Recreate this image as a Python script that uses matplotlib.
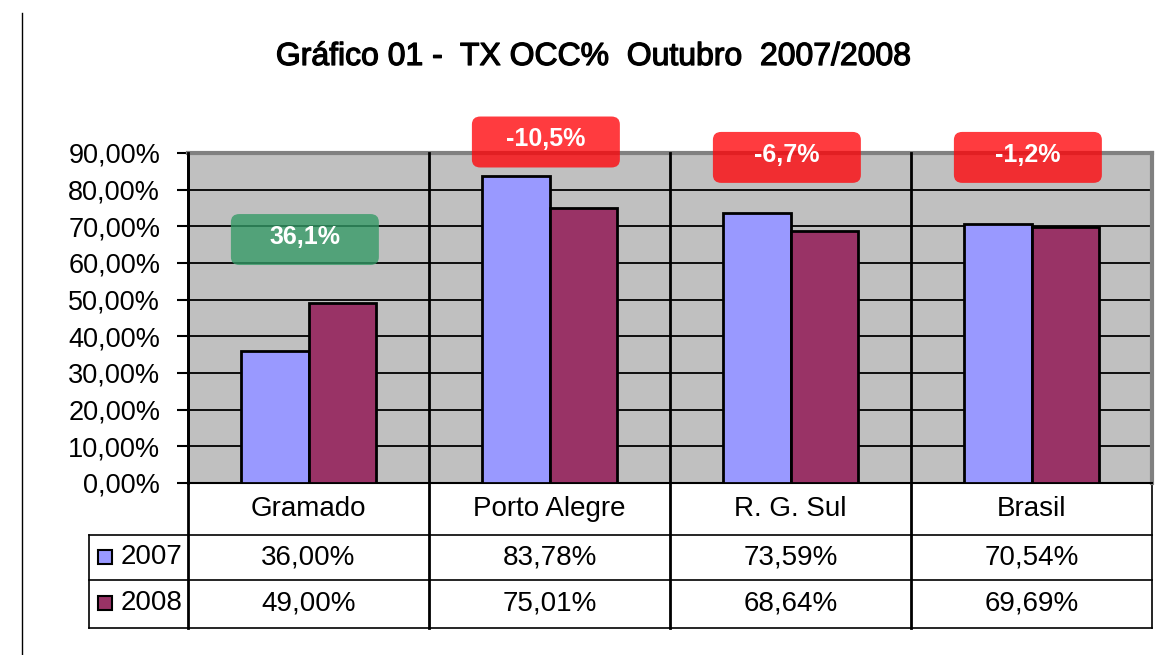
import matplotlib.pyplot as plt
import matplotlib.patheffects as pe
from matplotlib.patches import FancyBboxPatch, Rectangle
from matplotlib.lines import Line2D
from matplotlib.ticker import FuncFormatter

plt.rcParams['font.family'] = ['Liberation Sans', 'DejaVu Sans']

# dados do grafico
categorias = ['Gramado', 'Porto Alegre', 'R. G. Sul', 'Brasil']
anos = ['2007', '2008']
tx_2007 = [36.00, 83.78, 73.59, 70.54]
tx_2008 = [49.00, 75.01, 68.64, 69.69]

cores = ['#9999FF', '#993366']
W, H = 1167, 655
FS = 20


def pct(v, casas=2):
    return f'{v:.{casas}f}%'.replace('.', ',')


fig = plt.figure(figsize=(W / 100, H / 100), dpi=100)
fig.patch.set_facecolor('white')

# area do grafico (pixel coords da imagem original)
x0, x1, ytop, ybot = 188, 1152, 153, 483
ax = fig.add_axes([x0 / W, 1 - ybot / H, (x1 - x0) / W, (ybot - ytop) / H])
ax.set_facecolor('#C0C0C0')

n = len(categorias)
larg = 0.282
xs = list(range(n))
ax.bar([x - larg / 2 for x in xs], tx_2007, larg, color=cores[0],
       edgecolor='black', linewidth=2, zorder=3)
ax.bar([x + larg / 2 for x in xs], tx_2008, larg, color=cores[1],
       edgecolor='black', linewidth=2, zorder=3)

ax.set_xlim(-0.5, n - 0.5)
ax.set_ylim(0, 90)
ax.set_yticks(range(0, 91, 10))
ax.yaxis.set_major_formatter(FuncFormatter(lambda v, _: pct(v)))
ax.tick_params(axis='y', length=8, width=1.5, labelsize=19.5, pad=12)
ax.set_xticks([])
ax.yaxis.grid(True, color='black', linewidth=1.3)
ax.set_axisbelow(True)

ax.spines['left'].set_linewidth(2)
ax.spines['bottom'].set_linewidth(1.5)
for s in ['top', 'right']:
    ax.spines[s].set_color('#808080')
    ax.spines[s].set_linewidth(3)

# tabela de dados abaixo do grafico
T = ax.get_xaxis_transform()
def fy(py):
    return (ybot - py) / (ybot - ytop)

xleg = -0.5 - (x0 - 89) / ((x1 - x0) / n)
r1, r2, r3 = 535, 580, 628
for yy in [r1, r2, r3]:
    ax.add_line(Line2D([xleg, n - 0.5], [fy(yy)] * 2, transform=T,
                       color='black', lw=1.2, clip_on=False))
for xx in [i + 0.5 for i in range(-1, n - 1)]:
    ax.add_line(Line2D([xx, xx], [fy(r3), 1], transform=T, color='black',
                       lw=2, clip_on=False, zorder=4))
ax.add_line(Line2D([n - 0.5] * 2, [fy(r3), 0], transform=T, color='black',
                   lw=1.2, clip_on=False))
ax.add_line(Line2D([xleg] * 2, [fy(r3), fy(r1)], transform=T, color='black',
                   lw=1.2, clip_on=False))

for i, cat in enumerate(categorias):
    ax.text(i, fy(509), cat, transform=T, ha='center', va='center', fontsize=FS)
    ax.text(i, fy(557), pct(tx_2007[i]), transform=T, ha='center', va='center', fontsize=FS)
    ax.text(i, fy(603), pct(tx_2008[i]), transform=T, ha='center', va='center', fontsize=FS)

for ano, cor, yc in zip(anos, cores, [557, 603]):
    fig.add_artist(Rectangle((98 / W, 1 - (yc + 7) / H), 14 / W, 14 / H,
                             transform=fig.transFigure, facecolor=cor,
                             edgecolor='black', lw=1.5))
    fig.text(121 / W, 1 - yc / H, ano, ha='left', va='center', fontsize=FS)

# caixas de variacao
caixa_y = [66.4, 93.0, 88.8, 88.8]
for i in range(n):
    var = (tx_2008[i] - tx_2007[i]) / tx_2007[i] * 100
    cor = '#339A66' if var > 0 else '#FF0409'
    bw, bh = 0.614, 13.9
    cx = i - 0.015
    ax.add_patch(FancyBboxPatch((cx - bw / 2, caixa_y[i] - bh / 2), bw, bh,
                                boxstyle='round,pad=0,rounding_size=0.035',
                                mutation_aspect=62, facecolor=cor, alpha=0.78,
                                edgecolor='none', clip_on=False, zorder=5))
    ax.text(cx, caixa_y[i] + 0.7, pct(var, 1), ha='center', va='center',
            color='white', fontsize=18, fontweight='bold', zorder=6)

fig.text(594 / W, 1 - 57 / H, 'Gráfico 01 -  TX OCC%  Outubro  2007/2008',
         ha='center', va='center', fontsize=23,
         path_effects=[pe.withStroke(linewidth=0.9, foreground='black')])

fig.add_artist(Line2D([22 / W, 22 / W], [0, 1 - 13 / H], transform=fig.transFigure,
                      color='black', lw=1))

fig.savefig('out.png', dpi=100)
